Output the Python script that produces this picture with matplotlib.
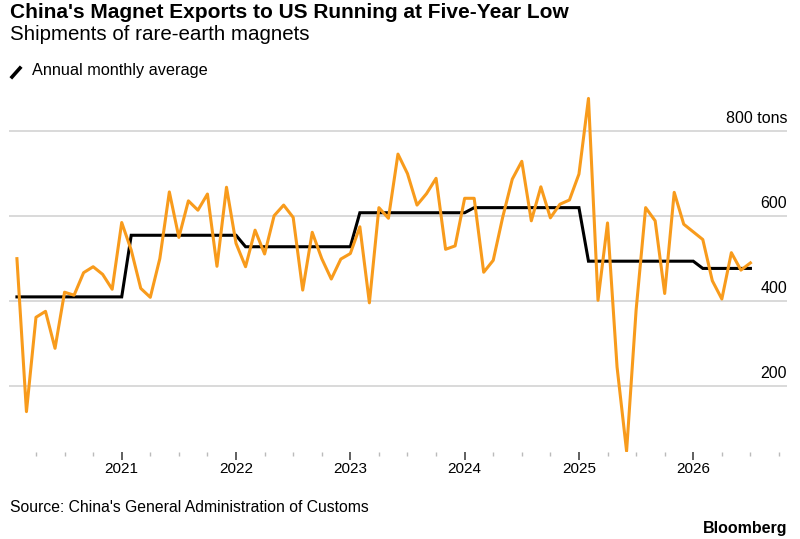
import numpy as np
import matplotlib.pyplot as plt
from matplotlib.lines import Line2D

plt.rcParams['font.family'] = ['Liberation Sans', 'DejaVu Sans']

############################################################
# Data (monthly, Jan 2020 - Jun 2026), tons
############################################################
years = [2020, 2021, 2022, 2023, 2024, 2025, 2026]
monthly = [500, 140, 362, 376, 289, 421, 414, 467, 481, 463, 428, 585,   # 2020
           520, 430, 409, 500, 657, 550, 636, 614, 652, 482, 668, 536,   # 2021
           481, 567, 511, 601, 626, 597, 426, 562, 500, 452, 499, 512,   # 2022
           575, 396, 620, 595, 746, 700, 626, 653, 689, 522, 530, 642,   # 2023
           642, 468, 496, 598, 687, 729, 589, 669, 596, 628, 638, 699,   # 2024
           877, 402, 584, 245, 47, 379, 620, 589, 418, 656, 581, 563,    # 2025
           545, 448, 405, 514, 473, 490]                                # 2026
annual_avg = [410, 555, 528, 608, 620, 494, 477]

tick_years = [2021, 2022, 2023, 2024, 2025, 2026]
ytick_vals = [200, 400, 600, 800]
ytick_labels = ['200', '400', '600', '800 tons']

# monthly values plotted at month end
n = len(monthly)
x = 2020 + (np.arange(n) + 1) / 12.0
avg_line = [annual_avg[years.index(2020 + i // 12)] for i in range(n)]

orange = '#f89b1c'

fig = plt.figure(figsize=(8, 5.39), dpi=100)
ax = fig.add_axes([0.01125, 0.1614, 0.9725, 0.6623])

for v in ytick_vals:
    ax.axhline(v, color='#cfcfcf', lw=1.1, zorder=1)

ax.plot(x, avg_line, color='black', lw=2.2, zorder=3, solid_joinstyle='miter')
ax.plot(x, monthly, color=orange, lw=2.2, zorder=4)

ax.set_xlim(2020.014, 2026.82)
ax.set_ylim(45, 885)

for s in ax.spines.values():
    s.set_visible(False)
ax.set_yticks([])
ax.set_xticks(tick_years)
ax.set_xticklabels([str(y) for y in tick_years], fontsize=11)
ax.set_xticks([y + q / 4 for y in range(2020, 2027) for q in (1, 2, 3)
               if y + q / 4 < 2026.8], minor=True)
ax.tick_params(axis='x', which='major', length=6, width=1.2, color='#444444', pad=1)
ax.tick_params(axis='x', which='minor', length=3, width=1, color='#bbbbbb')

for v, lab in zip(ytick_vals, ytick_labels):
    ax.text(2026.82, v + 12, lab, ha='right', va='bottom', fontsize=11.5)

#############################################################
# Titles, legend, footer
############################################################
fig.text(10 / 800, 1 - 17.5 / 539, "China's Magnet Exports to US Running at Five-Year Low",
         fontsize=15, fontweight='bold', va='baseline', ha='left')
fig.text(10 / 800, 1 - 39.5 / 539, "Shipments of rare-earth magnets",
         fontsize=14.75, va='baseline', ha='left')
fig.add_artist(Line2D([12 / 800, 20 / 800], [1 - 77 / 539, 1 - 68 / 539],
                      color='black', lw=2.6, transform=fig.transFigure))
fig.text(32 / 800, 1 - 75.5 / 539, "Annual monthly average",
         fontsize=11.7, va='baseline', ha='left')
fig.text(10 / 800, 1 - 507 / 539, "Source: China's General Administration of Customs",
         fontsize=11.3, va='center', ha='left')
fig.text(787 / 800, 1 - 533 / 539, "Bloomberg",
         fontsize=11.5, fontweight='bold', va='baseline', ha='right')

plt.savefig('out.png', dpi=100)
